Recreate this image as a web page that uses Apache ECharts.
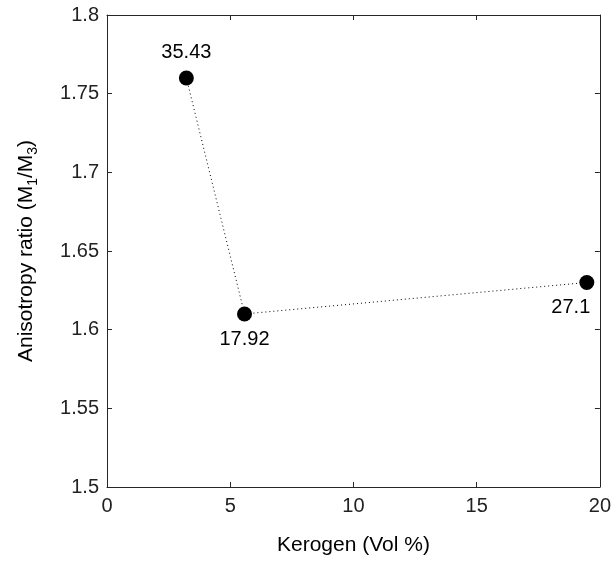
<!DOCTYPE html>
<html>
<head>
<meta charset="utf-8">
<script src="https://cdn.jsdelivr.net/npm/echarts@6/dist/echarts.min.js"></script>
<style>
  html, body { margin: 0; padding: 0; background: #fff; }
  #chart { width: 614px; height: 563px; }
</style>
</head>
<body>
<div id="chart"></div>
<script>
// kerogen volume (%) and anisotropy ratio, with the annotation next to each point
var kerogen = [3.22, 5.58, 19.47]
var ratio = [1.76, 1.61, 1.63]
var pointLabels = ['35.43', '17.92', '27.1']
var labelPos = ['top', 'bottom', 'bottom']

var axisColor = '#262626'
var font = 'Liberation Sans, Arial, sans-serif'

var pts = []
for (var i = 0; i < kerogen.length; i++) {
    pts.push({
        value: [kerogen[i], ratio[i]],
        label: {
            show: true,
            position: labelPos[i],
            formatter: pointLabels[i],
            distance: 8,
            offset: i == 2 ? [-16, 0] : [0, 0]
        }
    })
}

var frameAxis = {
    axisLine: { show: true, onZero: false, lineStyle: { color: axisColor, width: 1 } },
    axisTick: { show: true, inside: true, length: 5, lineStyle: { color: axisColor } },
    splitLine: { show: false }
}

var option = {
    backgroundColor: '#fff',
    animation: false,
    grid: { left: 107, right: 12, top: 15, bottom: 76 },
    xAxis: [
        Object.assign({
            type: 'value', min: 0, max: 20, interval: 5,
            name: 'Kerogen (Vol %)',
            nameLocation: 'middle', nameGap: 48,
            nameTextStyle: { color: '#000', fontSize: 21, fontFamily: font },
            axisLabel: { color: '#222', fontSize: 20, fontFamily: font, margin: 9 }
        }, frameAxis),
        Object.assign({
            type: 'value', min: 0, max: 20, interval: 5, position: 'top',
            axisLabel: { show: false }
        }, frameAxis)
    ],
    yAxis: [
        Object.assign({
            type: 'value', min: 1.5, max: 1.8, interval: 0.05,
            name: '{a|Anisotropy ratio (M}{s|1}{a|/M}{s|3}{a|)}',
            nameLocation: 'middle', nameGap: 68,
            nameTextStyle: {
                rich: {
                    a: { color: '#000', fontSize: 21, fontFamily: font, lineHeight: 26 },
                    s: { color: '#000', fontSize: 14, fontFamily: font, lineHeight: 26, padding: [14, 0, 0, 0] }
                }
            },
            axisLabel: { color: '#222', fontSize: 20, fontFamily: font, margin: 8 }
        }, frameAxis),
        Object.assign({
            type: 'value', min: 1.5, max: 1.8, interval: 0.05, position: 'right',
            axisLabel: { show: false }
        }, frameAxis)
    ],
    series: [{
        type: 'line',
        data: pts,
        symbol: 'circle',
        symbolSize: 15,
        itemStyle: { color: '#000' },
        lineStyle: { color: '#000', width: 1, type: [1, 3] },
        label: { color: '#000', fontSize: 20, fontFamily: font }
    }]
}

var chart = echarts.init(document.getElementById('chart'))
chart.setOption(option)
window.addEventListener('resize', () => {
    chart.resize()
})
</script>
</body>
</html>
